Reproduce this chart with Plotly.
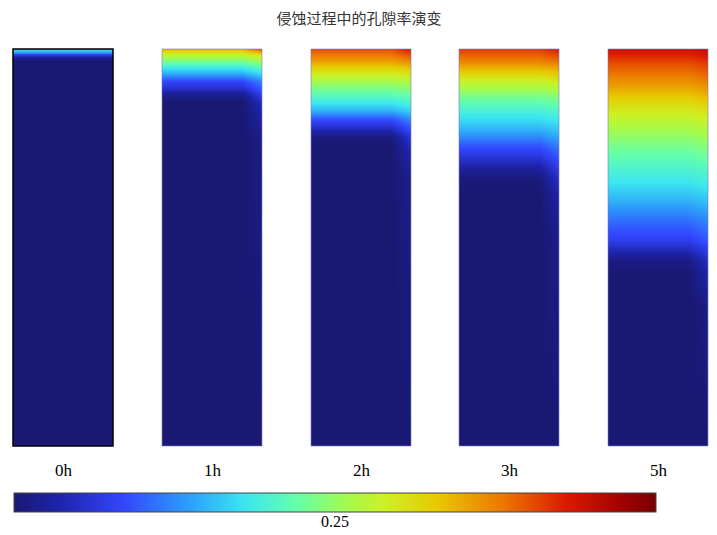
import plotly.graph_objects as go

# porosity evolution, 5 time steps; depth is fraction of column height (0 = top)
times = ['0h', '1h', '2h', '3h', '5h']

depth_0h = [0, 0.008, 0.015, 0.023, 0.03, 1.0]
center_0h = [0.205, 0.185, 0.136, 0.109, 0.1, 0.1]
wall_0h = [0.205, 0.185, 0.136, 0.109, 0.1, 0.1]

depth_1h = [0, 0.016, 0.032, 0.048, 0.064, 0.08, 0.097, 0.113, 0.134, 0.17, 0.235, 1.0]
center_1h = [0.304, 0.265, 0.235, 0.208, 0.184, 0.151, 0.133, 0.112, 0.1, 0.1, 0.1, 0.1]
wall_1h = [0.34, 0.28, 0.25, 0.226, 0.202, 0.175, 0.16, 0.145, 0.13, 0.118, 0.106, 0.1]

depth_2h = [0, 0.027, 0.054, 0.08, 0.107, 0.134, 0.155, 0.177, 0.203, 0.225, 0.257, 0.32, 1.0]
center_2h = [0.34, 0.316, 0.286, 0.256, 0.235, 0.211, 0.187, 0.154, 0.124, 0.103, 0.1, 0.1, 0.1]
wall_2h = [0.358, 0.325, 0.292, 0.262, 0.241, 0.22, 0.199, 0.175, 0.151, 0.136, 0.124, 0.109, 0.1]

depth_3h = [0, 0.032, 0.06, 0.087, 0.122, 0.149, 0.181, 0.208, 0.243, 0.276, 0.303, 0.324, 0.365, 0.45, 1.0]
center_3h = [0.346, 0.322, 0.292, 0.265, 0.238, 0.22, 0.202, 0.184, 0.157, 0.133, 0.115, 0.103, 0.1, 0.1, 0.1]
wall_3h = [0.358, 0.328, 0.298, 0.271, 0.244, 0.226, 0.208, 0.193, 0.172, 0.154, 0.142, 0.133, 0.121, 0.109, 0.1]

depth_5h = [0, 0.038, 0.088, 0.139, 0.189, 0.24, 0.29, 0.336, 0.386, 0.437, 0.48, 0.51, 0.535, 0.568, 0.65, 1.0]
center_5h = [0.364, 0.34, 0.316, 0.286, 0.262, 0.241, 0.223, 0.208, 0.187, 0.163, 0.145, 0.124, 0.106, 0.1, 0.1, 0.1]
wall_5h = [0.37, 0.346, 0.322, 0.292, 0.268, 0.247, 0.229, 0.214, 0.193, 0.172, 0.157, 0.142, 0.13, 0.121, 0.106, 0.1]

depths = [depth_0h, depth_1h, depth_2h, depth_3h, depth_5h]
centers = [center_0h, center_1h, center_2h, center_3h, center_5h]
walls = [wall_0h, wall_1h, wall_2h, wall_3h, wall_5h]

cbar_tick = 0.25

colorscale = [
    [0.0, 'rgb(25,25,115)'],
    [0.07, 'rgb(30,35,170)'],
    [0.17, 'rgb(50,70,255)'],
    [0.28, 'rgb(45,165,250)'],
    [0.36, 'rgb(60,230,240)'],
    [0.44, 'rgb(100,255,170)'],
    [0.52, 'rgb(165,250,75)'],
    [0.58, 'rgb(205,240,35)'],
    [0.66, 'rgb(232,200,0)'],
    [0.76, 'rgb(236,120,0)'],
    [0.86, 'rgb(220,25,0)'],
    [0.95, 'rgb(160,0,0)'],
    [1.0, 'rgb(120,0,0)'],
]
cmin, cmax = 0.1, 0.4

# page body has an 8px margin, so the figure is laid out in page pixels minus that offset
OFF = 8
W, H = 717 - OFF, 535 - OFF
panel_left = [13, 162, 311, 459, 608]
panel_w = 100
top_px, bottom_px = 49, 446
cb_left, cb_right, cb_top, cb_bottom = 14, 656, 493, 512
serif = 'Liberation Serif'


def px(x):
    return (x - OFF) / W


def py(y):
    return 1 - (y - OFF) / H


fig = go.Figure()
for i, t in enumerate(times):
    n = str(i + 1) if i else ''
    z = [[c, c, w] for c, w in zip(centers[i], walls[i])]
    fig.add_trace(go.Heatmap(
        x=[0, 0.8, 1.0], y=depths[i], z=z,
        coloraxis='coloraxis', zsmooth='best',
        xaxis='x' + n, yaxis='y' + n, hoverinfo='skip'
    ))
    x0 = px(panel_left[i])
    x1 = px(panel_left[i] + panel_w)
    fig.update_layout(**{
        'xaxis' + n: dict(domain=[x0, x1], range=[0, 1], visible=False, anchor='y' + n),
        'yaxis' + n: dict(domain=[py(bottom_px), py(top_px)], range=[1, 0],
                          visible=False, anchor='x' + n),
    })
    fig.add_annotation(x=(x0 + x1) / 2 + 0.002, y=py(470), xref='paper', yref='paper',
                       xanchor='center', yanchor='middle',
                       text=t, showarrow=False,
                       font=dict(family=serif, size=17, color='black'))
    fig.add_shape(type='rect', xref='x' + n + ' domain', yref='y' + n + ' domain',
                  x0=0, x1=1, y0=0, y1=1,
                  line=dict(color='black' if i == 0 else 'rgba(120,120,200,0.6)',
                            width=1.5 if i == 0 else 1))

# dashed marker through the colour bar at the labelled value, label just below it
tick_x = px(cb_left + (cbar_tick - cmin) / (cmax - cmin) * (cb_right - cb_left))
fig.add_shape(type='line', xref='paper', yref='paper', x0=tick_x, x1=tick_x,
              y0=py(cb_bottom), y1=py(cb_top), line=dict(color='#333333', width=1, dash='3px,3px'))
fig.add_annotation(x=tick_x, y=py(521), xref='paper', yref='paper',
                   xanchor='center', yanchor='middle', text=f'{cbar_tick:.2f}', showarrow=False,
                   font=dict(family=serif, size=16, color='black'))

fig.update_layout(
    width=W, height=H,
    margin=dict(l=0, r=0, t=0, b=0, autoexpand=False),
    paper_bgcolor='white', plot_bgcolor='white',
    title=dict(text='侵蚀过程中的孔隙率演变', x=px(359), xanchor='center', y=py(19), yanchor='middle',
               font=dict(family='Noto Sans CJK SC', size=15, color='#333333')),
    coloraxis=dict(
        colorscale=colorscale, cmin=cmin, cmax=cmax,
        colorbar=dict(
            orientation='h', x=px((cb_left + cb_right) / 2), xanchor='center',
            y=py(cb_top), yanchor='top',
            len=cb_right - cb_left, lenmode='pixels', thickness=cb_bottom - cb_top, thicknessmode='pixels',
            outlinecolor='#444444', outlinewidth=1,
            tickvals=[cbar_tick], ticks='', showticklabels=False,
            xpad=0, ypad=0,
        ),
    ),
)

fig.write_html('out.html')
